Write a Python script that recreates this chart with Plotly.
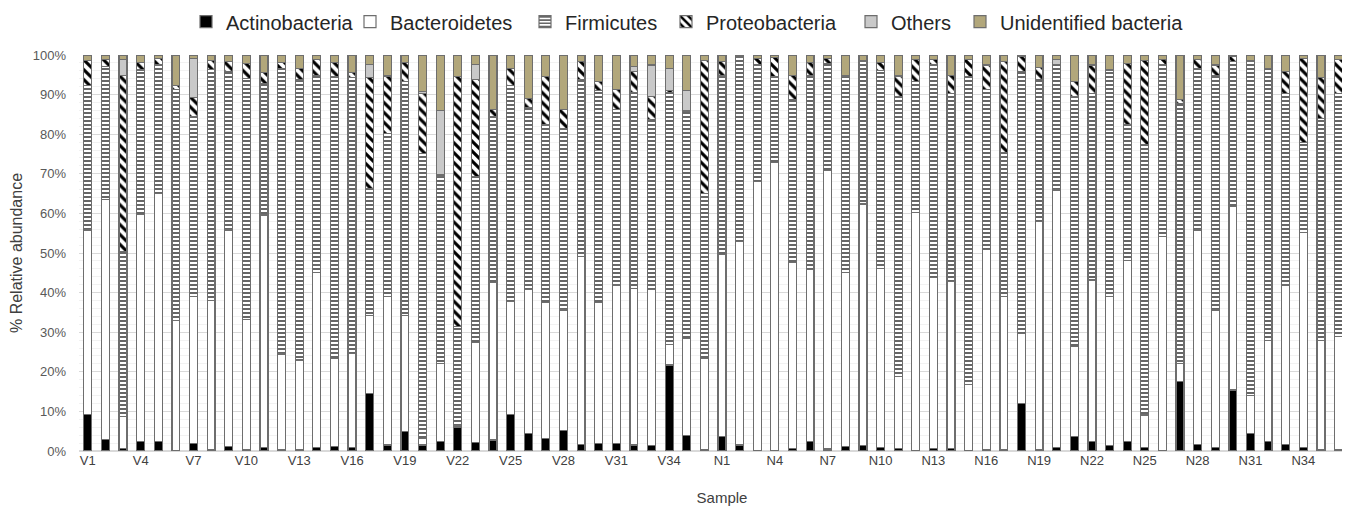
import plotly.graph_objects as go

samples = [f"V{i}" for i in range(1, 37)] + [f"N{i}" for i in range(1, 37)]
# the axis has one more (empty) slot, N37, whose label is cut by the picture's right edge
axis_categories = samples + ["N37"]

actinobacteria = [9.3, 3.0, 0.7, 2.4, 2.5, 0.2, 1.9, 0.4, 1.1, 0.4, 0.8, 0.4, 0.4, 0.8, 1.1, 0.8, 14.6, 1.5,
                  4.9, 1.5, 2.4, 5.9, 2.1, 2.8, 9.3, 4.5, 3.2, 5.1, 1.7, 1.9, 1.9, 1.5, 1.3, 21.7, 4.0, 0.4,
                  3.6, 1.5, 0.2, 0.2, 0.6, 2.4, 0.5, 1.1, 1.3, 0.8, 0.6, 0.2, 0.7, 0.7, 0.2, 0.4, 0.4, 11.9,
                  0.4, 0.9, 3.6, 2.4, 1.3, 2.4, 0.9, 0.2, 17.5, 1.7, 0.9, 15.4, 4.5, 2.4, 1.7, 0.8, 0.4, 0.4]
bacteroidetes = [46.5, 60.6, 8.0, 57.4, 62.6, 32.7, 37.1, 37.6, 54.7, 32.8, 58.8, 24.1, 22.6, 44.2, 22.3, 23.9, 19.7, 37.5,
                 29.3, 1.7, 19.7, 0.4, 25.3, 39.7, 28.4, 36.2, 34.3, 30.5, 47.5, 35.6, 40.0, 39.6, 39.4, 5.1, 24.5, 23.0,
                 46.1, 51.4, 67.8, 72.6, 47.0, 43.5, 70.3, 43.9, 61.1, 45.3, 18.3, 60.0, 43.1, 42.1, 16.5, 50.4, 38.7, 17.8,
                 57.5, 65.0, 22.7, 40.8, 37.7, 45.7, 8.2, 53.9, 4.6, 54.1, 34.7, 46.3, 9.6, 25.5, 40.2, 54.3, 27.5, 28.6]
firmicutes = [36.6, 33.5, 41.6, 36.4, 32.4, 58.4, 45.4, 58.4, 40.0, 60.9, 33.2, 72.1, 70.7, 49.9, 71.1, 69.7, 32.0, 41.2,
              59.1, 72.0, 47.3, 25.1, 41.9, 41.9, 54.7, 46.1, 44.8, 45.9, 44.7, 53.5, 44.4, 49.4, 43.1, 63.7, 57.2, 41.7,
              45.0, 46.5, 29.5, 21.7, 41.2, 48.8, 27.1, 49.5, 35.9, 49.9, 70.6, 33.1, 53.7, 47.5, 77.8, 40.4, 36.2, 66.1,
              36.0, 31.8, 63.2, 47.1, 57.2, 34.2, 68.4, 43.4, 65.7, 40.8, 59.3, 36.6, 84.2, 68.7, 48.4, 22.8, 56.1, 61.3]
proteobacteria = [6.2, 1.8, 44.6, 1.9, 1.7, 1.1, 4.9, 2.2, 2.5, 3.8, 2.7, 1.5, 2.9, 4.0, 3.6, 1.1, 28.1, 14.5,
                  4.8, 15.1, 0.3, 63.1, 24.6, 1.9, 4.2, 2.3, 12.2, 4.8, 4.4, 2.3, 4.9, 5.3, 5.7, 0.5, 0.3, 33.6,
                  3.6, 0.3, 1.7, 4.9, 6.1, 3.4, 1.3, 0.4, 0.4, 2.1, 5.2, 5.6, 1.4, 4.6, 4.4, 6.3, 23.0, 3.8,
                  3.0, 0.0, 3.8, 7.2, 0.2, 15.6, 21.1, 1.4, 1.0, 2.3, 2.6, 1.3, 0.4, 0.0, 5.5, 21.3, 10.4, 8.6]
others = [0, 0, 4.0, 0, 0, 0, 9.9, 0, 0, 0, 0, 0, 0, 0, 0, 0, 3.3, 0,
          0, 0.5, 16.2, 0, 3.8, 0, 0, 0, 0, 0, 0, 0, 0, 1.3, 8.0, 5.6, 5.0, 0,
          0, 0, 0, 0, 0, 0, 0, 0, 0, 0, 0, 0, 0, 0, 0, 0, 0, 0,
          0, 1.2, 0, 0, 0, 0, 0, 0, 0, 0, 0, 0, 0, 0, 0, 0, 0, 0]
unidentified = [1.4, 1.1, 1.1, 1.9, 0.8, 7.6, 0.8, 1.4, 1.7, 2.1, 4.5, 1.9, 3.4, 1.1, 1.9, 4.5, 2.3, 5.3,
                1.9, 9.2, 14.1, 5.5, 2.3, 13.7, 3.4, 10.9, 5.5, 13.7, 1.7, 6.7, 8.8, 2.9, 2.5, 3.4, 9.0, 1.3,
                1.7, 0.3, 0.8, 0.6, 5.1, 1.9, 0.8, 5.1, 1.3, 1.9, 5.3, 1.1, 1.1, 5.1, 1.1, 2.5, 1.7, 0.4,
                3.1, 1.1, 6.7, 2.5, 3.6, 2.1, 1.4, 1.1, 11.2, 1.1, 2.5, 0.4, 1.3, 3.4, 4.2, 0.8, 5.6, 1.1]

tick_labels = axis_categories[0:37:3] + axis_categories[36:73:3]
tick_labels = [t for t in tick_labels if t != "V37"]

series = [
    ("Actinobacteria", actinobacteria, dict(color="#000000")),
    ("Bacteroidetes", bacteroidetes, dict(color="#FFFFFF")),
    ("Firmicutes", firmicutes, dict(color="#FFFFFF",
                                    pattern=dict(shape="-", fgcolor="#000000", bgcolor="#FFFFFF",
                                                 size=4, solidity=0.3, fillmode="replace"))),
    ("Proteobacteria", proteobacteria, dict(color="#FFFFFF",
                                            pattern=dict(shape="\\", fgcolor="#000000", bgcolor="#FFFFFF",
                                                         size=7, solidity=0.45, fillmode="replace"))),
    ("Others", others, dict(color="#C9C9C9")),
    ("Unidentified bacteria", unidentified, dict(color="#B2A77B")),
]

W, H = 1360, 507
# approximate on-screen x (px) where each legend entry's text starts
legend_text_x = [231, 395, 570, 711, 896, 1005]

fig = go.Figure()
legend_layouts = {}
for i, (name, vals, mk) in enumerate(series):
    mk = dict(mk)
    mk["line"] = dict(color="#6E6E6E", width=1.2)
    key = "legend" if i == 0 else f"legend{i + 1}"
    fig.add_trace(go.Bar(name=name, x=samples, y=vals, marker=mk, legend=key))
    legend_layouts[key] = dict(
        orientation="h", xref="container", x=(legend_text_x[i] - 53) / W, xanchor="left",
        yref="container", y=0.973, yanchor="middle", bgcolor="rgba(0,0,0,0)",
        font=dict(size=20, color="#262626"), itemwidth=30,
    )

fig.update_layout(
    barmode="stack",
    bargap=0.55,
    width=W, height=H,
    margin=dict(l=71, r=3, t=47, b=64, autoexpand=False),
    paper_bgcolor="white", plot_bgcolor="white",
    font=dict(family="Liberation Sans, Arial, sans-serif", color="#595959"),
    showlegend=True,
    **legend_layouts,
)
fig.update_xaxes(type="category", categoryorder="array", categoryarray=axis_categories,
                 tickmode="array", tickvals=tick_labels, ticktext=tick_labels,
                 tickangle=0, tickfont=dict(size=13, color="#404040"), showgrid=False,
                 showline=False, ticks="", range=[-0.5, len(axis_categories) - 0.5], automargin=False,
                 title=dict(text="Sample", font=dict(size=15, color="#404040"), standoff=25))
fig.update_yaxes(range=[0, 100], dtick=10, ticksuffix="%", tickfont=dict(size=13, color="#595959"),
                 showgrid=True, gridcolor="#D9D9D9", gridwidth=1, zeroline=True, zerolinecolor="#D9D9D9",
                 ticks="", ticklabelstandoff=12, automargin=False,
                 minor=dict(dtick=2, showgrid=True, gridcolor="#F2F2F2", gridwidth=1),
                 title=dict(text="% Relative abundance", font=dict(size=16, color="#404040"), standoff=10))

fig.write_html("out.html")
